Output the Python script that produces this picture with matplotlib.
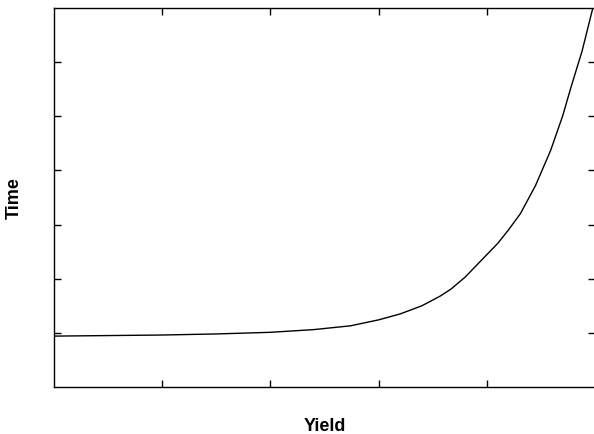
import matplotlib.pyplot as plt

plt.rcParams['font.family'] = ['Liberation Sans', 'DejaVu Sans']

# values (arbitrary units, no tick labels shown)
yield_vals = [0.0, 0.5, 1.0, 1.5, 2.0, 2.4, 2.74, 3.0, 3.2, 3.4, 3.57, 3.67,
              3.8, 3.94, 4.1, 4.2, 4.31, 4.45, 4.59, 4.7, 4.78, 4.88, 4.98]
time_vals = [0.94, 0.95, 0.96, 0.98, 1.01, 1.06, 1.13, 1.24, 1.35, 1.50, 1.68, 1.81,
             2.03, 2.32, 2.65, 2.90, 3.20, 3.72, 4.37, 5.0, 5.55, 6.2, 7.0]

fig = plt.figure(figsize=(5.94, 4.35), dpi=100)
ax = fig.add_axes([54 / 594, 47 / 435, 541 / 594, 379 / 435])

ax.plot(yield_vals, time_vals, color='black', linewidth=1.0)

ax.set_xlim(0, 5)
ax.set_ylim(0, 7)
ax.set_xticks([1, 2, 3, 4])
ax.set_yticks([1, 2, 3, 4, 5, 6])
ax.tick_params(direction='in', length=5, width=1, top=True, right=True,
               labelbottom=False, labelleft=False)
for s in ax.spines.values():
    s.set_linewidth(1.0)

ax.set_xlabel('Yield', fontsize=13, fontweight='bold')
ax.set_ylabel('Time', fontsize=13, fontweight='bold')
ax.xaxis.set_label_coords(0.5, -0.079)
ax.yaxis.set_label_coords(-0.057, 0.5)

fig.savefig('out.png', dpi=100)
